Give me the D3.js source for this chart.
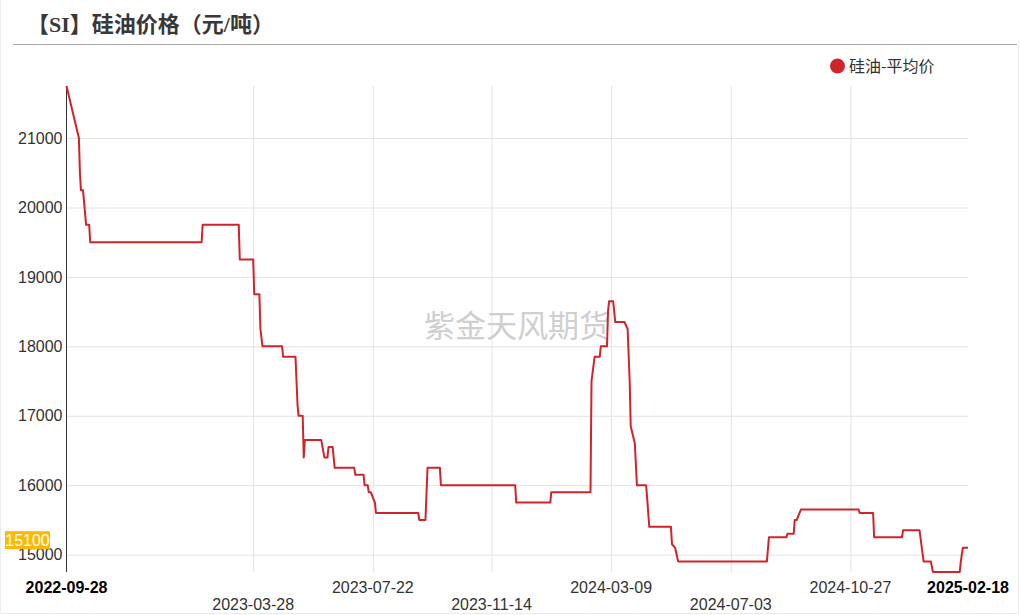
<!DOCTYPE html>
<html><head><meta charset="utf-8">
<script src="https://cdn.jsdelivr.net/npm/d3@7"></script>
<style>
html,body{margin:0;padding:0;background:#fff;}
svg{display:block;}
</style></head>
<body>
<svg id="chart" width="1020" height="615"></svg>
<script>
const title = "【SI】硅油价格（元/吨）";
const seriesName = "硅油-平均价";
const watermark = "紫金天风期货";
const dates = ["2022-09-28","2022-10-10","2022-10-11","2022-10-12","2022-10-14","2022-10-17","2022-10-20","2022-10-21",
"2023-02-06","2023-02-07","2023-03-14","2023-03-15","2023-03-28","2023-03-29","2023-04-03","2023-04-04","2023-04-06",
"2023-04-25","2023-04-26","2023-05-08","2023-05-10","2023-05-11","2023-05-15","2023-05-16","2023-05-17","2023-06-02",
"2023-06-05","2023-06-08","2023-06-09","2023-06-13","2023-06-15","2023-07-04","2023-07-05","2023-07-13","2023-07-14",
"2023-07-17","2023-07-18","2023-07-20","2023-07-24","2023-07-25","2023-09-04","2023-09-05","2023-09-11","2023-09-13",
"2023-09-25","2023-09-26","2023-12-07","2023-12-08","2024-01-10","2024-01-11","2024-02-18","2024-02-19","2024-02-22",
"2024-02-27","2024-02-28","2024-03-05","2024-03-06","2024-03-07","2024-03-11","2024-03-12","2024-03-13","2024-03-22",
"2024-03-25","2024-03-27","2024-03-28","2024-04-01","2024-04-03","2024-04-12","2024-04-15","2024-05-06","2024-05-07",
"2024-05-10","2024-05-13","2024-08-07","2024-08-09","2024-08-26","2024-08-27","2024-09-02","2024-09-03","2024-09-05",
"2024-09-09","2024-11-04","2024-11-05","2024-11-18","2024-11-19","2024-12-16","2024-12-17","2025-01-02","2025-01-06",
"2025-01-13","2025-01-15","2025-02-10","2025-02-11","2025-02-13","2025-02-18"];
const prices = [21750,21000,20500,20250,20250,19750,19750,19500,
19500,19750,19750,19250,19250,18750,18750,18250,18000,
18000,17850,17850,17150,17000,17000,16400,16650,16650,
16400,16400,16550,16550,16250,16250,16150,16150,16000,
16000,15900,15900,15750,15600,15600,15500,15500,16250,
16250,16000,16000,15750,15750,15900,15900,17500,17850,
17850,18000,18000,18500,18650,18650,18500,18350,18350,
18250,17500,16850,16600,16000,16000,15400,15400,15150,
15100,14900,14900,15250,15250,15300,15300,15500,15500,
15650,15650,15600,15600,15250,15250,15350,15350,14900,
14900,14750,14750,14900,15100,15100];
const xTickLabels = ["2022-09-28","2023-03-28","2023-07-22","2023-11-14","2024-03-09","2024-07-03","2024-10-27","2025-02-18"];
const yTickValues = [15000,16000,17000,18000,19000,20000,21000];
const yDomain = [14750, 21750];
const lastValue = 15100;

const parse = d3.utcParse("%Y-%m-%d");
const data = dates.map((d,i)=>({date: parse(d), value: prices[i]}));

const svg = d3.select("#chart");
const pL = 66.5, pR = 968, pT = 86, pB = 572;
const x = d3.scaleUtc().domain([parse(xTickLabels[0]), parse(xTickLabels[xTickLabels.length-1])]).range([pL, pR]);
const y = d3.scaleLinear().domain(yDomain).range([pB, pT]);
const font = "'Liberation Sans', Arial, 'Noto Sans CJK SC', sans-serif";

// outer border
svg.append("path").attr("d","M0.5,0 V613.5 H1018.5 V45").attr("fill","none").attr("stroke","#ececec");

// title
svg.append("text").attr("x",27).attr("y",32).text(title)
  .attr("font-family","'Liberation Serif','Noto Sans CJK SC',serif").attr("font-weight","bold")
  .attr("font-size",22).attr("fill","#383838");
svg.append("line").attr("x1",13).attr("x2",1017).attr("y1",44.5).attr("y2",44.5).attr("stroke","#a8a8a8").attr("stroke-width",1);

// grid
const yAxisG = svg.append("g").attr("transform",`translate(${pL},0)`)
  .call(d3.axisLeft(y).tickValues(yTickValues).tickSize(-(pR-pL)).tickPadding(5).tickFormat(d3.format("d")));
yAxisG.select(".domain").remove();
yAxisG.selectAll(".tick line").attr("stroke","#e3e3e3");
yAxisG.selectAll(".tick text").attr("font-family",font).attr("font-size",16).attr("fill","#333").attr("x",-4);

const innerTicks = xTickLabels.slice(1,-1).map(parse);
const xAxisG = svg.append("g").attr("transform",`translate(0,${pB})`)
  .call(d3.axisBottom(x).tickValues(innerTicks).tickSize(-(pB-pT)).tickFormat(""));
xAxisG.select(".domain").remove();
xAxisG.selectAll(".tick line").attr("stroke","#e3e3e3");

// x labels
xTickLabels.forEach((lab,i)=>{
  const isEnd = i===0 || i===xTickLabels.length-1;
  const lower = !isEnd && (i%2===1);
  svg.append("text").attr("x",x(parse(lab))).attr("y", lower?610:593)
    .attr("text-anchor","middle").attr("font-family",font).attr("font-size",16)
    .attr("font-weight",isEnd?"bold":"normal").attr("fill",isEnd?"#000":"#333").text(lab);
});

// y axis line
svg.append("line").attr("x1",pL).attr("x2",pL).attr("y1",pT).attr("y2",pB).attr("stroke","#333").attr("stroke-width",1);

// watermark
svg.append("text").attr("x",517).attr("y",337).attr("text-anchor","middle")
  .attr("font-family","'Noto Sans CJK SC',sans-serif").attr("font-size",31).attr("fill","#cfcfcf").text(watermark);

// line
const line = d3.line().x(d=>x(d.date)).y(d=>y(d.value));
svg.append("path").datum(data).attr("d",line).attr("fill","none").attr("stroke","#d0242b").attr("stroke-width",2).attr("stroke-linejoin","round");

// last value label
const ly = y(lastValue) - 7.5;
svg.append("rect").attr("x",5).attr("y",ly-9).attr("width",45).attr("height",18).attr("fill","#ffb800");
svg.append("text").attr("x",27.5).attr("y",ly+5.5).attr("text-anchor","middle").attr("font-family",font).attr("font-size",16).attr("fill","#fff").text(String(lastValue));

// legend
svg.append("circle").attr("cx",837.5).attr("cy",66).attr("r",7.5).attr("fill","#d0242b");
svg.append("text").attr("x",849).attr("y",71.5).attr("font-family","'Noto Sans CJK SC',sans-serif").attr("font-size",16).attr("fill","#333").text(seriesName);
</script>
</body></html>
